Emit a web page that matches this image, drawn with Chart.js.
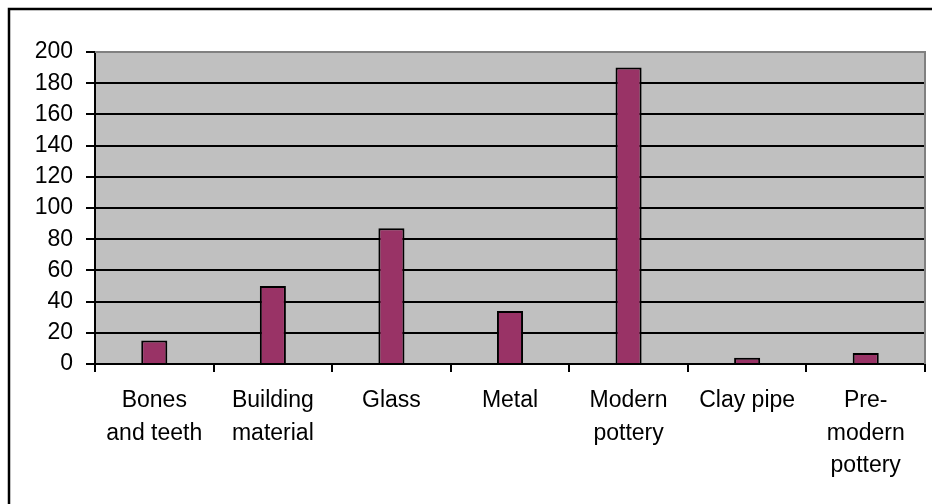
<!DOCTYPE html>
<html>
<head>
<meta charset="utf-8">
<script src="https://cdn.jsdelivr.net/npm/chart.js@4/dist/chart.umd.min.js"></script>
<style>
html,body{margin:0;padding:0;background:#fff;}
#wrap{position:relative;width:932px;height:504px;}
</style>
</head>
<body>
<div id="wrap"><canvas id="c" width="932" height="504"></canvas></div>
<script>
const categories = [["Bones","and teeth"],["Building","material"],["Glass"],["Metal"],["Modern","pottery"],["Clay pipe"],["Pre-","modern","pottery"]];
const counts = [15, 50, 87, 34, 190, 4, 7];
const yTicks = [0, 20, 40, 60, 80, 100, 120, 140, 160, 180, 200];

const FONT = "'Liberation Sans', Arial, sans-serif";

const frame = {
  id: 'frame',
  beforeDraw(chart) {
    const {ctx, chartArea: a} = chart;
    ctx.save();
    ctx.fillStyle = '#c0c0c0';
    ctx.fillRect(a.left, a.top, a.right - a.left, a.bottom - a.top);
    ctx.restore();
  },
  afterDraw(chart) {
    const {ctx, chartArea: a} = chart;
    ctx.save();
    ctx.strokeStyle = '#808080';
    ctx.lineWidth = 2;
    ctx.beginPath();
    ctx.moveTo(a.left, a.top);
    ctx.lineTo(a.right, a.top);
    ctx.lineTo(a.right, a.bottom);
    ctx.stroke();
    ctx.strokeStyle = '#000';
    ctx.lineWidth = 2.5;
    ctx.strokeRect(9, 9, 940, 520);
    ctx.restore();
  }
};

new Chart(document.getElementById('c'), {
  type: 'bar',
  data: {
    labels: categories,
    datasets: [{
      data: counts,
      backgroundColor: '#993366',
      borderColor: '#000',
      borderWidth: 2,
      borderSkipped: 'bottom',
      categoryPercentage: 1,
      barPercentage: 0.22
    }]
  },
  options: {
    responsive: false,
    animation: false,
    devicePixelRatio: 1,
    layout: { padding: { left: 0, top: 52, right: 7, bottom: 0 } },
    plugins: { legend: { display: false }, tooltip: { enabled: false } },
    scales: {
      x: {
        offset: true,
        grid: { offset: true, drawOnChartArea: false, drawTicks: true, tickLength: 8, color: '#000', lineWidth: 2 },
        border: { display: true, color: '#000', width: 2 },
        ticks: { color: '#000', font: { family: FONT, size: 23, lineHeight: 1.4 }, padding: 13, maxRotation: 0, autoSkip: false },
        afterFit(s) { s.height = 140; }
      },
      y: {
        min: 0, max: 200,
        afterBuildTicks(s) { s.ticks = yTicks.map(v => ({ value: v })); },
        grid: { color: '#000', lineWidth: 2, drawTicks: true, tickLength: 9 },
        border: { display: true, color: '#000', width: 2 },
        ticks: { color: '#000', font: { family: FONT, size: 23 }, padding: 13 },
        afterFit(s) { s.width = 95; }
      }
    }
  },
  plugins: [frame]
});
</script>
</body>
</html>
